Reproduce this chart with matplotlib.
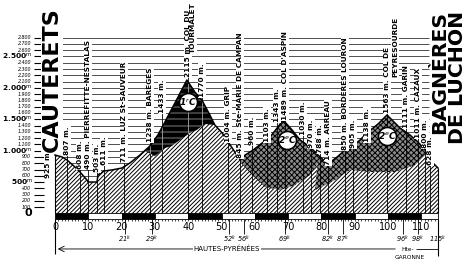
import numpy as np
import matplotlib.pyplot as plt

# stage profile: distance (km) / altitude (m)
km = [0, 2.1, 3.6, 6.0, 7.5, 9.6, 9.9, 12.6, 12.9, 14.7, 17.1, 20.1, 22.5, 25.5,
      28.5, 30.9, 33.0, 36.0, 39.6, 42.0, 44.1, 46.5, 48.0, 50.2, 52.6, 55.6,
      57.1, 59.5, 62.2, 64.6, 66.7, 68.5, 71.2, 73.6, 76.6, 79.6, 82.0, 84.7,
      87.1, 89.5, 91.6, 93.7, 97.0, 99.7, 102.1, 103.6, 106.6, 109.0, 111.7,
      113.5, 115.0]
alt = [931, 900, 852, 740, 661, 533, 501, 501, 613, 677, 693, 724, 804, 931,
       1075, 1250, 1457, 1759, 2125, 1934, 1807, 1568, 1409, 1282, 1091, 852,
       931, 1011, 1122, 1218, 1361, 1488, 1329, 1170, 1059, 899, 788, 899,
       1011, 1075, 1170, 1282, 1425, 1568, 1441, 1361, 1250, 1138, 979,
       804, 724]

# darker mountain masses (lower edge of each)
tour_km = [27, 30, 33, 35.1, 37.5, 40.5, 42.6, 45, 48]
tour_alt = [995, 916, 1043, 1075, 1171, 1282, 1330, 1425, 1409]
aspin_km = [55.6, 59.2, 63.1, 67.6, 72.1, 76.6, 79.6]
aspin_alt = [820, 613, 422, 374, 454, 613, 852]
peyr_km = [79.0, 78.1, 84.1, 88.6, 94.6, 102.1, 108.1, 112.0]
peyr_alt = [880, 374, 533, 693, 661, 661, 772, 1011]

# place names: km, altitude of the text foot, text
lab_km = [-2.1, 3.6, 7.5, 9.9, 12.6, 14.7, 20.7, 28.5, 32.1, 39.9, 44.1, 52.0,
          55.6, 59.2, 63.7, 66.7, 69.1, 74.5, 76.9, 79.6, 82.0, 87.1, 89.5,
          93.7, 99.7, 105.4, 109.0, 111.1, 112.6]
lab_alt = [565, 932, 709, 709, 661, 772, 820, 1139, 1600, 2173, 1855, 1139,
           884, 1091, 1139, 1457, 1489, 1250, 1043, 963, 772, 1011, 1043,
           1139, 1600, 1361, 1202, 1043, 772]
lab_txt = ["925 m.", "807 m.", "608 m.", "490 m. PIERREFITTE-NESTALAS",
           "503 m.", "611 m.", "711 m. LUZ St-SAUVEUR", "1238 m. BAREGES",
           "1433 m.", "2115 m. COL DU", "1770 m.", "1004 m. GRIP",
           "845 m. Ste-MARIE DE CAMPAN", "960 m.", "1103 m.", "1343 m.",
           "1489 m. COL D'ASPIN", "1030 m.", "970 m.", "788 m.",
           "714 m. ARREAU", "850 m. BORDERES LOURON", "905 m.", "1138 m.",
           "1563 m. COL DE", "1111 m. GARIN", "1011 m. CAZAUX", "800 m.",
           "628 m."]
lab2_km = [41.4, 102.1]
lab2_alt = [2556, 2173]
lab2_txt = ["TOURMALET", "PEYRESOURDE"]

# climbs categories
col_km = [39.9, 69.7, 99.7]
col_alt = [1775, 1170, 1234]
col_txt = ["1$^r$C", "2$^e$C", "2$^e$C"]

# km marks under the axis
mark_km = [21, 29, 52.3, 56.8, 69, 82, 86.5, 104.5, 109, 115]
mark_txt = ["21", "29", "52", "56", "69", "82", "87", "96", "98", "115"]

alt_ticks = list(range(100, 2900, 100))
big_ticks = [500, 1000, 1500, 2000, 2500]
km_ticks = list(range(0, 120, 10))

plt.rcParams['hatch.linewidth'] = 0.7
fig = plt.figure(figsize=(4.68, 2.69), dpi=100)
ax = fig.add_axes([0, 0, 1, 1])
ax.set_xlim(-16.52, 124.02)
ax.set_ylim(-884, 3399)
ax.axis('off')

# altitude grid
ax.hlines(alt_ticks, 0, 112.3, color='#333333', lw=0.6, zorder=1)
ax.hlines(alt_ticks, -6.3, -3.4, color='black', lw=0.8, zorder=1)
for v in alt_ticks:
    s = f"{v:,}".replace(',', '.')
    if v in big_ticks:
        ax.text(-6.6, v, s + r"$^{\rm m}$", ha='right', va='center',
                fontsize=5.4, fontweight='bold')
    else:
        ax.text(-7.2, v, s, ha='right', va='center', fontsize=3.4,
                style='italic')
ax.text(-8.1, 0, "0", ha='center', va='center', fontsize=8, fontweight='bold')

# profile
kk = np.array(km)
aa = np.array(alt)
ax.fill_between(kk, aa, 0, facecolor='white', edgecolor='black',
                hatch='////////', lw=0, zorder=2)


def band(k0, k1, low_k, low_a):
    m = (kk > k0) & (kk < k1)
    xs = np.r_[k0, kk[m], k1, low_k[::-1]]
    ys = np.r_[np.interp(k0, kk, aa), aa[m], np.interp(k1, kk, aa), low_a[::-1]]
    return xs, ys


xs, ys = band(27, 48, np.array(tour_km), np.array(tour_alt))
blk = ax.fill(xs, ys, color='black', lw=0, zorder=3)[0]
wl = ax.hlines(alt_ticks, 25, 50, color='white', lw=0.35, zorder=3.2)
wl.set_clip_path(blk)
xs, ys = band(55.6, 79.6, np.array(aspin_km), np.array(aspin_alt))
ax.fill(xs, ys, facecolor='#8c8c8c', edgecolor='black', hatch='xxxxxx', lw=0,
        zorder=3)
xs, ys = band(79.0, 112.0, np.array(peyr_km), np.array(peyr_alt))
ax.fill(xs, ys, facecolor='#8c8c8c', edgecolor='black', hatch='xxxxxx', lw=0,
        zorder=3)
ax.plot(kk, aa, color='black', lw=1.1, zorder=4)
ax.vlines([0, 115], [0, 0], [alt[0], alt[-1]], color='black', lw=0.8, zorder=4)

# place labels
for x, y, t in zip(lab_km, lab_alt, lab_txt):
    if x > 0:
        ax.vlines(x, 0, y, color='black', lw=0.6, zorder=3.5)
    ax.text(x, y, t, rotation=90, ha='center', va='bottom', fontsize=5.3,
            fontweight='bold', zorder=6,
            bbox=dict(fc='white', ec='none', pad=0.6))
for x, y, t in zip(lab2_km, lab2_alt, lab2_txt):
    ax.text(x, y, t, rotation=90, ha='center', va='bottom', fontsize=5.3,
            fontweight='bold', zorder=6,
            bbox=dict(fc='white', ec='none', pad=0.6))
wv = ax.vlines([x for x in lab_km if 27 < x < 48], 0, 2200, color='white',
               lw=0.4, zorder=3.6)
wv.set_clip_path(blk)

ax.scatter(col_km, col_alt, s=170, facecolor='white', edgecolor='black',
           lw=1.2, zorder=5)
for x, y, t in zip(col_km, col_alt, col_txt):
    ax.text(x, y, t, ha='center', va='center', fontsize=6.5,
            fontweight='bold', style='italic', zorder=6)

# town names
ax.text(-0.9, 3288, "CAUTERETS", rotation=90, ha='center', va='top',
        fontsize=16, fontweight='bold', zorder=6,
        bbox=dict(fc='white', ec='none', pad=1))
ax.text(115.6, 3224, "BAGNÈRES", rotation=90, ha='center', va='top',
        fontsize=14.7, fontweight='bold', zorder=6)
ax.text(121.0, 3224, "DE LUCHON", rotation=90, ha='center', va='top',
        fontsize=14.7, fontweight='bold', zorder=6)

# distance bar
seg = np.arange(0, 115, 10)
segw = np.minimum(10, 115 - seg)
ax.bar(seg, 80, width=segw, bottom=-80, align='edge',
       color=['black' if i % 2 == 0 else 'white' for i in range(len(seg))],
       edgecolor='black', lw=0.6, zorder=4)
ax.vlines(np.arange(0, 116), -80, -115, color='black', lw=0.5)
for k in km_ticks:
    ax.text(k, -215, str(k), ha='center', va='center', fontsize=7)
ax.vlines(0, -80, -640, color='black', lw=0.8)
ax.vlines(115, -80, -670, color='black', lw=0.8)
ax.vlines(mark_km, -80, -330, color='black', lw=0.6)
for x, t in zip(mark_km, mark_txt):
    ax.text(x, -405, t + r"$^k$", ha='center', va='center', fontsize=4.8,
            style='italic')

# departments
ax.annotate('', xy=(0, -565), xytext=(103, -565),
            arrowprops=dict(arrowstyle='->', lw=0.6, color='black'))
ax.text(51.6, -565, "HAUTES-PYRÉNÉES", ha='center', va='center',
        fontsize=5, bbox=dict(fc='white', ec='none', pad=0.6))
ax.hlines(-565, 108.5, 115, color='black', lw=0.6)
ax.text(106, -575, "Hte-", ha='center', va='center', fontsize=4.2)
ax.text(106.5, -700, "GARONNE", ha='center', va='center', fontsize=4.2)

fig.savefig('out.png', dpi=100)
